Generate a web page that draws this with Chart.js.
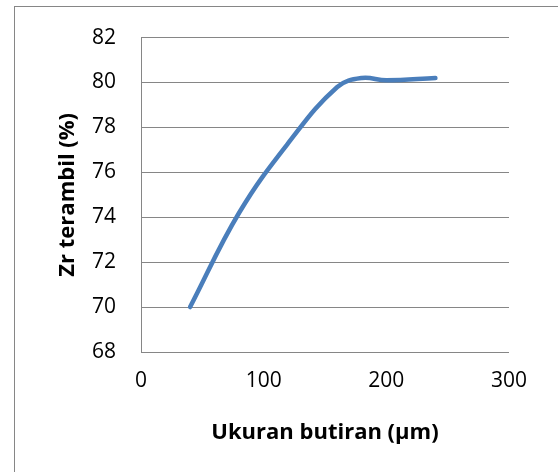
<!DOCTYPE html>
<html>
<head>
<meta charset="utf-8">
<script src="https://cdn.jsdelivr.net/npm/chart.js@4.4.1/dist/chart.umd.min.js"></script>
<style>
  html, body { margin: 0; padding: 0; background: #fff; overflow: hidden; }
  #wrap { position: relative; width: 558px; height: 472px; }
  #frame { position: absolute; left: 14px; top: 6px; width: 600px; height: 500px; border: 1px solid #868686; box-sizing: border-box; }
  canvas { position: absolute; left: 0; top: 0; }
</style>
</head>
<body>
<div id="wrap">
  <div id="frame"></div>
  <canvas id="c" width="558" height="472"></canvas>
</div>
<script>
const sizes = [40, 80, 120, 160, 180, 200, 240];
const zrValues = [70, 74.2, 77.3, 79.8, 80.2, 80.1, 80.2];
const xTitle = 'Ukuran butiran (µm)';
const yTitle = 'Zr terambil (%)';
const xRange = [0, 300, 100];
const yRange = [68, 82, 2];

const gridColor = '#868686';
const fontFamily = '"Open Sans", Lato, sans-serif';

const points = sizes.map((s, i) => ({ x: s, y: zrValues[i] }));

new Chart(document.getElementById('c'), {
  type: 'scatter',
  data: {
    datasets: [{
      data: points,
      showLine: true,
      borderColor: '#4a7ebb',
      backgroundColor: '#4a7ebb',
      borderWidth: 4.5,
      borderCapStyle: 'round',
      borderJoinStyle: 'round',
      pointRadius: 0,
      tension: 0.4,
      fill: false
    }]
  },
  options: {
    responsive: false,
    animation: false,
    layout: { padding: { left: 43, top: 36, right: 49, bottom: 20 } },
    plugins: { legend: { display: false }, tooltip: { enabled: false } },
    scales: {
      x: {
        type: 'linear',
        min: xRange[0], max: xRange[1],
        ticks: { stepSize: xRange[2], color: '#000', padding: 16, font: { family: fontFamily, size: 21 } },
        grid: { display: false, drawTicks: false },
        border: { display: false },
        title: { display: true, text: xTitle, color: '#000', font: { family: fontFamily, size: 22, weight: 'bold' }, padding: { top: 0, bottom: 6 } },
        afterFit: (s) => { s.height = 100; }
      },
      y: {
        type: 'linear',
        min: yRange[0], max: yRange[1],
        ticks: { stepSize: yRange[2], color: '#000', padding: 25, font: { family: fontFamily, size: 21 } },
        grid: { color: gridColor, lineWidth: 1, drawTicks: false },
        border: { display: true, color: gridColor, width: 1 },
        title: { display: true, text: yTitle, color: '#000', font: { family: fontFamily, size: 22, weight: 'bold' }, padding: { top: 12, bottom: 0 } },
        afterFit: (s) => { s.width = 98; }
      }
    }
  }
});
</script>
</body>
</html>
